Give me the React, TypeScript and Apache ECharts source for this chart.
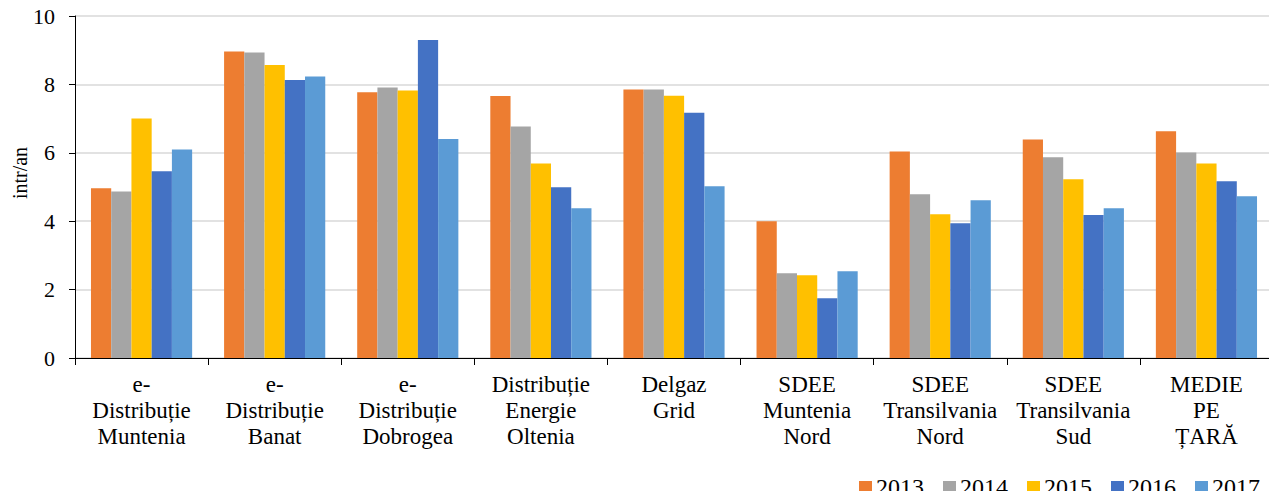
import React, { useEffect, useRef } from "react";
import * as echarts from "echarts";

const categories = [
  "e-\nDistribuție\nMuntenia",
  "e-\nDistribuție\nBanat",
  "e-\nDistribuție\nDobrogea",
  "Distribuție\nEnergie\nOltenia",
  "Delgaz\nGrid",
  "SDEE\nMuntenia\nNord",
  "SDEE\nTransilvania\nNord",
  "SDEE\nTransilvania\nSud",
  "MEDIE\nPE\nȚARĂ",
];

const years = ["2013", "2014", "2015", "2016", "2017"];
const v2013 = [4.96, 8.96, 7.77, 7.66, 7.85, 4.0, 6.04, 6.39, 6.63];
const v2014 = [4.87, 8.93, 7.91, 6.77, 7.85, 2.48, 4.79, 5.87, 6.01];
const v2015 = [7.0, 8.57, 7.82, 5.69, 7.67, 2.42, 4.2, 5.23, 5.69];
const v2016 = [5.46, 8.13, 9.3, 4.99, 7.17, 1.75, 3.94, 4.18, 5.17];
const v2017 = [6.1, 8.23, 6.4, 4.38, 5.02, 2.54, 4.61, 4.38, 4.73];
const seriesValues = [v2013, v2014, v2015, v2016, v2017];
const colors = ["#ED7D31", "#A5A5A5", "#FFC000", "#4472C4", "#5B9BD5"];
const yTicks = [0, 2, 4, 6, 8, 10];
const yAxisName = "intr/an";

const FONT = "Liberation Serif";

export default function App() {
  const ref = useRef<HTMLDivElement>(null);
  useEffect(() => {
    if (!ref.current) return;
    const chart = echarts.init(ref.current, null, { renderer: "svg" });
    chart.setOption({
      animation: false,
      backgroundColor: "#ffffff",
      textStyle: { fontFamily: FONT, color: "#000" },
      grid: { left: 75, right: 4, top: 16, bottom: 141, containLabel: false },
      graphic: [
        {
          type: "text",
          x: 20,
          y: 173,
          rotation: Math.PI / 2,
          style: {
            text: yAxisName,
            fontFamily: FONT,
            fontSize: 20,
            fill: "#000",
            align: "center",
            verticalAlign: "middle",
          },
        },
      ],
      legend: {
        data: years,
        right: 12,
        top: 469,
        padding: 5,
        itemWidth: 13,
        itemHeight: 12,
        itemGap: 19,
        icon: "rect",
        textStyle: {
          fontFamily: FONT,
          fontSize: 24,
          color: "#000",
          lineHeight: 26,
          padding: [0, 0, 0, -1],
        },
      },
      xAxis: {
        type: "category",
        data: categories,
        axisLine: { lineStyle: { color: "#000", width: 1 } },
        axisTick: { show: true, length: 7, lineStyle: { color: "#000" } },
        axisLabel: {
          fontFamily: FONT,
          fontSize: 23,
          color: "#000",
          lineHeight: 26,
          margin: 13,
          interval: 0,
        },
      },
      yAxis: {
        type: "value",
        min: yTicks[0],
        max: yTicks[yTicks.length - 1],
        interval: 2,
        axisLine: { show: true, lineStyle: { color: "#000", width: 1 } },
        axisTick: { show: true, length: 6, lineStyle: { color: "#000" } },
        axisLabel: { fontFamily: FONT, fontSize: 22, color: "#000", margin: 20 },
        splitLine: { show: true, lineStyle: { color: "#D9D9D9", width: 1.5 } },
      },
      series: years.map((y, i) => ({
        name: y,
        type: "bar",
        data: seriesValues[i],
        itemStyle: { color: colors[i] },
        barGap: "0%",
        barCategoryGap: "24%",
      })),
    });
    return () => chart.dispose();
  }, []);
  return <div ref={ref} style={{ width: 1277, height: 499, margin: -8 }} />;
}
